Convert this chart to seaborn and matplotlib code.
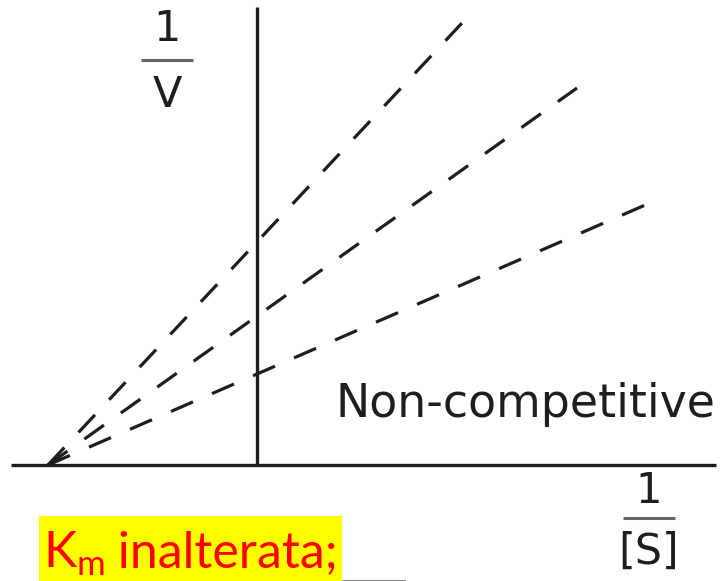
import numpy as np
import pandas as pd
import matplotlib
matplotlib.use("Agg")
import matplotlib.pyplot as plt
from matplotlib.patches import Rectangle
import seaborn as sns

sns.set_theme(style="white")
plt.rcParams["font.family"] = ["DejaVu Sans"]

# Lineweaver-Burk, non-competitive inhibition (x = 1/[S], y = 1/V)
neg_inv_km = -2.09                      # common x-intercept (-1/Km)
inhibitor = ["none", "low", "high"]
x_end = [4.02, 3.20, 2.05]              # where each dashed line stops
y_end = [2.66, 3.77, 4.42]

x_axis_span = [-2.46, 4.59]
y_axis_span = [0.0, 4.58]

rows = []
for name, xe, ye in zip(inhibitor, x_end, y_end):
    rows.append({"inhibitor": name, "inv_s": neg_inv_km, "inv_v": 0.0})
    rows.append({"inhibitor": name, "inv_s": xe, "inv_v": ye})
df = pd.DataFrame(rows)

fig = plt.figure(figsize=(7.21, 5.81), dpi=100)
ax = fig.add_axes([0, 0, 1, 1])
ax.set_xlim(-2.57, 4.64)
ax.set_ylim(-1.16, 4.65)
ax.axis("off")

ink = "#1e1e1e"

# axes drawn as plain lines through the origin
ax.hlines(0, x_axis_span[0], x_axis_span[1], color=ink, lw=2.4, zorder=3)
ax.vlines(0, y_axis_span[0], y_axis_span[1], color=ink, lw=2.4, zorder=3)

for name in inhibitor:
    sub = df[df["inhibitor"] == name]
    sns.lineplot(data=sub, x="inv_s", y="inv_v", ax=ax, color=ink, lw=2.3,
                 linestyle=(0, (7.5, 6.5)), legend=False, estimator=None)

# axis labels as stacked fractions
ax.text(-0.90, 4.36, "1", ha="center", va="center", fontsize=31, color=ink)
ax.hlines(4.05, -1.16, -0.64, color="#666666", lw=2.2)
ax.text(-0.90, 3.70, "V", ha="center", va="center", fontsize=31, color=ink)

ax.text(3.92, -0.26, "1", ha="center", va="center", fontsize=30, color=ink)
ax.hlines(-0.53, 3.66, 4.18, color="#666666", lw=2.2)
ax.text(3.92, -0.87, "[S]", ha="center", va="center", fontsize=31, color=ink)

ax.text(0.79, 0.48, "Non-competitive", ha="left", va="baseline",
        fontsize=33, color=ink)

# highlighted note at the bottom
ax.add_patch(Rectangle((39 / 721, 0), (342 - 39) / 721, (581 - 516) / 581,
                       transform=ax.transAxes, facecolor="#ffff00",
                       edgecolor="none", zorder=1))
ax.plot([342 / 721, 405 / 721], [1.5 / 581, 1.5 / 581], transform=ax.transAxes,
        color="#888888", lw=0.8)

note_font = ["Lato", "DejaVu Sans"]
note_y = -1.02
k = ax.text(-2.14, note_y, "K", ha="left", va="baseline", fontsize=36,
            color="#ff0000", family=note_font, zorder=4)
fig.canvas.draw()
inv = ax.transData.inverted()
k_right = inv.transform(k.get_window_extent().p1)[0]
m = ax.text(k_right + 0.005, note_y - 0.08, "m", ha="left", va="baseline",
            fontsize=25, color="#ff0000", family=note_font, zorder=4)
fig.canvas.draw()
m_right = inv.transform(m.get_window_extent().p1)[0]
ax.text(m_right, note_y, " inalterata;", ha="left", va="baseline",
        fontsize=36, color="#ff0000", family=note_font, zorder=4)

fig.savefig("out.png", dpi=100)
